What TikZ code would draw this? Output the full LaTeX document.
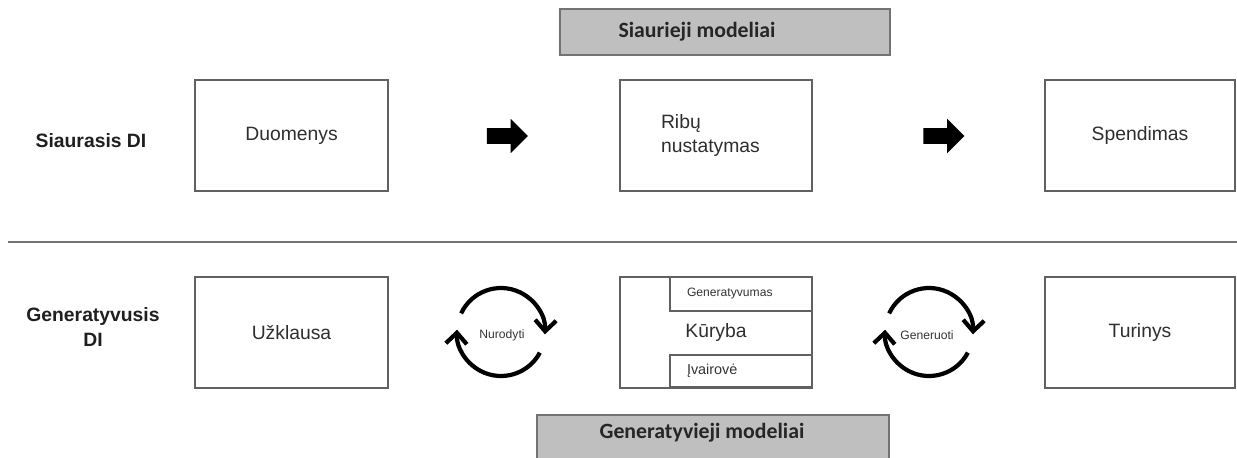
\documentclass[tikz,border=0pt]{standalone}
\usepackage{fontspec}
\setmainfont{Liberation Sans}
\newfontfamily\hdrfont{Carlito}
\usetikzlibrary{arrows.meta,shapes.arrows}
\tikzset{
	box/.style={draw=black!62, line width=1pt, minimum width=3.86cm, minimum height=2.22cm, font=\fontsize{11}{13.6}\selectfont, text=black!82},
	subbox/.style={draw=black!62, line width=1pt, minimum width=2.84cm, minimum height=0.68cm, text width=2.16cm, inner xsep=0.34cm, align=left},
	hdrbox/.style={draw=black!55, fill=black!25, line width=1pt, minimum height=0.92cm},
	hdrtext/.style={font=\hdrfont\bfseries\fontsize{12.4}{14}\selectfont, text=black!85},
	side/.style={font=\bfseries\fontsize{11}{14.2}\selectfont, text=black!88, align=center},
	blockarrow/.style={single arrow, fill=black, draw=none, minimum height=0.82cm, inner sep=0pt, inner ysep=0.15cm, single arrow head extend=0.19cm},
	cyc/.style={line width=2.4pt, -{Straight Barb[length=2.2mm, width=4.2mm, line width=2.4pt]}},
	cyctext/.style={font=\fontsize{6.9}{8}\selectfont, text=black!80}
}
\begin{document}
\begin{tikzpicture}[x=0.02cm, y=-0.02cm]
	\clip (0,0) rectangle (1237,457);
	\node[hdrbox, minimum width=6.6cm] (narrowHdr) at (725,32) {};
	\node[hdrtext] (narrowHdrText) at (697,32) {Siaurieji modeliai};
	\node[hdrbox, minimum width=7.04cm] (genHdr) at (713,438) {};
	\node[hdrtext] (genHdrText) at (702,433) {Generatyvieji modeliai};
	
	\node[side] (narrow) at (91,141) {Siaurasis DI};
	\node[side] (gener) at (93,327) {Generatyvusis\\DI};
	
	\node[box] (duo) at (291.5,135.5) {Duomenys};
	\node[box, minimum width=3.84cm, text width=2.2cm, inner xsep=0.82cm, align=left] (rib) at (716,135.5) {Ribų\\nustatymas};
	\node[box, minimum width=3.8cm] (spe) at (1140,135.5) {Spendimas};
	\node[blockarrow] (ar1) at (503.5,136) {};
	\node[blockarrow] (ar2) at (940,136) {};
	
	\coordinate (sepL) at (8,242);
	\coordinate (sepR) at (1237,242);
	\draw[black!55, line width=1.1pt] (sepL) -- (sepR);
	
	\node[box] (uzk) at (291.5,332.5) {Užklausa};
	\node[box, minimum width=3.84cm] (kur) at (716,332.5) {Kūryba};
	\node[subbox, font=\fontsize{6.9}{8}\selectfont, text=black!80] (gen) at (741,294) {Generatyvumas};
	\node[subbox, minimum height=0.64cm, font=\fontsize{8.2}{9}\selectfont, text=black!80] (iva) at (741,371) {Įvairovė};
	\node[box, minimum width=3.8cm] (tur) at (1140,332.5) {Turinys};
	
	\coordinate (nurC) at (501,332);
	\node[cyctext] (nur) at (502,335) {Nurodyti};
	\draw[cyc] ([shift={(155:0.88cm)}]nurC) arc[start angle=155, end angle=-3, radius=0.88cm];
	\draw[cyc] ([shift={(-28:0.88cm)}]nurC) arc[start angle=-28, end angle=-183, radius=0.88cm];
	
	\coordinate (genC) at (929,332);
	\node[cyctext] (genr) at (927,335) {Generuoti};
	\draw[cyc] ([shift={(155:0.88cm)}]genC) arc[start angle=155, end angle=-3, radius=0.88cm];
	\draw[cyc] ([shift={(-28:0.88cm)}]genC) arc[start angle=-28, end angle=-183, radius=0.88cm];
\end{tikzpicture}
\end{document}
